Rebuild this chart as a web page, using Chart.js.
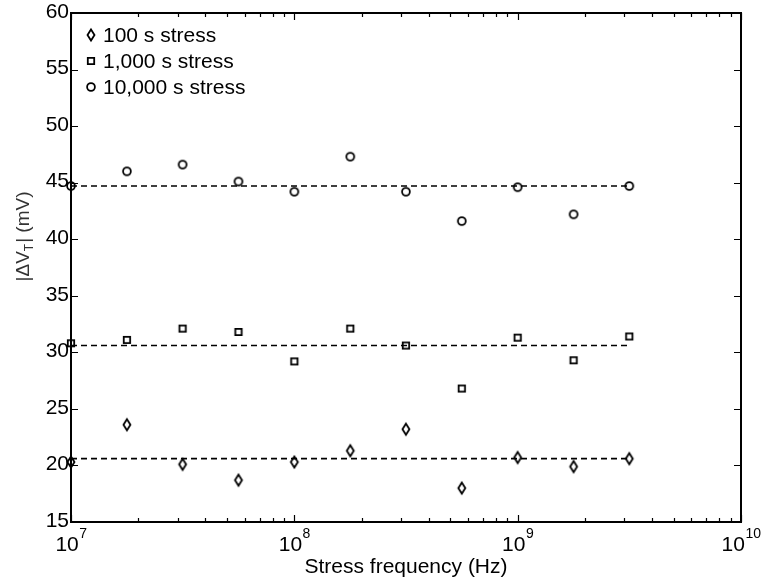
<!DOCTYPE html>
<html>
<head>
<meta charset="utf-8">
<script src="https://cdn.jsdelivr.net/npm/chart.js@4/dist/chart.umd.min.js"></script>
<style>
  html, body { margin: 0; padding: 0; background: #ffffff; }
  #wrap { width: 763px; height: 578px; position: relative; }
</style>
</head>
<body>
<div id="wrap"><canvas id="c" width="763" height="578"></canvas></div>
<script>
// Stress frequencies (Hz), quarter-decade steps
const freqHz = [1e7, 1.78e7, 3.16e7, 5.62e7, 1e8, 1.78e8, 3.16e8, 5.62e8, 1e9, 1.78e9, 3.16e9];

// |dVT| (mV) for each stress time
const stress100 = [20.3, 23.6, 20.1, 18.7, 20.3, 21.3, 23.2, 18.0, 20.7, 19.9, 20.6];
const stress1000 = [30.8, 31.1, 32.1, 31.8, 29.2, 32.1, 30.6, 26.8, 31.3, 29.3, 31.4];
const stress10000 = [44.7, 46.0, 46.6, 45.1, 44.2, 47.3, 44.2, 41.6, 44.6, 42.2, 44.7];

// Average level of each series (dashed reference lines)
const meanLevels = [20.6, 30.6, 44.7];

// Legend labels
const seriesLabels = ['100 s stress', '1,000 s stress', '10,000 s stress'];

// Axis ticks
const yTicks = [15, 20, 25, 30, 35, 40, 45, 50, 55, 60];
const xDecades = [7, 8, 9, 10];

const FONT = '"Liberation Sans", Arial, Helvetica, sans-serif';
const INK = '#000000';

// Marker glyphs as small canvases
function markerCanvas(kind) {
  const w = 14, h = 16;
  const cv = document.createElement('canvas');
  cv.width = w; cv.height = h;
  const g = cv.getContext('2d');
  g.strokeStyle = INK;
  g.lineWidth = 1.8;
  const cx = w / 2, cy = h / 2;
  g.beginPath();
  if (kind === 'diamond') {
    g.moveTo(cx, cy - 5.6);
    g.lineTo(cx + 3.5, cy);
    g.lineTo(cx, cy + 5.6);
    g.lineTo(cx - 3.5, cy);
    g.closePath();
  } else if (kind === 'square') {
    g.rect(cx - 3.2, cy - 3.2, 6.4, 6.4);
  } else {
    g.arc(cx, cy, 3.9, 0, Math.PI * 2);
  }
  g.stroke();
  return cv;
}
const markers = [markerCanvas('diamond'), markerCanvas('square'), markerCanvas('circle')];

function pts(ys) { return freqHz.map((x, i) => ({ x: x, y: ys[i] })); }
function meanLine(v) { return [{ x: freqHz[0], y: v }, { x: freqHz[freqHz.length - 1], y: v }]; }

const seriesData = [stress100, stress1000, stress10000];
const datasets = [];
seriesData.forEach((ys, i) => {
  datasets.push({
    type: 'scatter',
    label: seriesLabels[i],
    data: pts(ys),
    pointStyle: markers[i],
    pointRadius: 5,
    pointHoverRadius: 5,
    showLine: false,
    clip: false
  });
});
meanLevels.forEach((v) => {
  datasets.push({
    type: 'line',
    label: '',
    data: meanLine(v),
    borderColor: INK,
    borderWidth: 1.6,
    borderDash: [6, 4],
    pointRadius: 0,
    fill: false,
    clip: false
  });
});

function supLabel(ctx, base, exp, cx, baseline) {
  ctx.font = '21px ' + FONT;
  const bw = ctx.measureText(base).width;
  ctx.font = '14px ' + FONT;
  const ew = ctx.measureText(exp).width;
  const left = cx - (bw + ew) / 2;
  ctx.textAlign = 'left';
  ctx.textBaseline = 'alphabetic';
  ctx.font = '21px ' + FONT;
  ctx.fillText(base, left, baseline);
  ctx.font = '14px ' + FONT;
  ctx.fillText(exp, left + bw + 0.5, baseline - 13);
}

// Boxed axes with inward ticks, labels, titles and an inset legend
const axesPlugin = {
  id: 'boxAxes',
  afterDraw(chart) {
    const ctx = chart.ctx;
    const a = chart.chartArea;
    const xs = chart.scales.x, ys = chart.scales.y;
    ctx.save();
    ctx.strokeStyle = INK;
    ctx.fillStyle = INK;
    ctx.lineWidth = 2;
    ctx.strokeRect(a.left, a.top, a.right - a.left, a.bottom - a.top);

    ctx.lineWidth = 1.2;
    const major = 7, minor = 4;
    // x ticks (log)
    for (let d = xDecades[0]; d <= xDecades[xDecades.length - 1]; d++) {
      for (let m = 1; m <= 9; m++) {
        if (d === xDecades[xDecades.length - 1] && m > 1) break;
        const px = Math.round(xs.getPixelForValue(m * Math.pow(10, d))) + 0.5;
        const len = m === 1 ? major : minor;
        ctx.beginPath();
        ctx.moveTo(px, a.bottom); ctx.lineTo(px, a.bottom - len);
        ctx.moveTo(px, a.top); ctx.lineTo(px, a.top + len);
        ctx.stroke();
      }
    }
    // y ticks
    yTicks.forEach((v) => {
      const py = Math.round(ys.getPixelForValue(v)) + 0.5;
      ctx.beginPath();
      ctx.moveTo(a.left, py); ctx.lineTo(a.left + major, py);
      ctx.moveTo(a.right, py); ctx.lineTo(a.right - major, py);
      ctx.stroke();
    });

    // y tick labels
    ctx.font = '21px ' + FONT;
    ctx.textAlign = 'right';
    ctx.textBaseline = 'middle';
    yTicks.forEach((v) => {
      ctx.fillText(String(v), a.left - 2, ys.getPixelForValue(v) - 1);
    });

    // x tick labels: 10^n
    xDecades.forEach((d) => {
      supLabel(ctx, '10', String(d), xs.getPixelForValue(Math.pow(10, d)), a.bottom + 29);
    });

    // x title
    ctx.font = '21px ' + FONT;
    ctx.textAlign = 'center';
    ctx.textBaseline = 'alphabetic';
    ctx.fillText('Stress frequency (Hz)', (a.left + a.right) / 2, 573);

    // y title: |ΔV_T| (mV), rotated
    ctx.save();
    ctx.translate(29, 237);
    ctx.rotate(-Math.PI / 2);
    const big = '19px ' + FONT, small = '12px ' + FONT;
    const parts = [
      { t: '|\u0394V', f: big, dy: 0 },
      { t: 'T', f: small, dy: 4 },
      { t: '| (mV)', f: big, dy: 0 }
    ];
    let total = 0;
    parts.forEach((p) => { ctx.font = p.f; p.w = ctx.measureText(p.t).width; total += p.w; });
    let x0 = -total / 2;
    ctx.textAlign = 'left';
    ctx.textBaseline = 'alphabetic';
    ctx.fillStyle = '#333333';
    parts.forEach((p) => {
      ctx.font = p.f;
      ctx.fillText(p.t, x0, p.dy);
      x0 += p.w + (p.t === 'T' ? 1 : 0);
    });
    ctx.restore();

    // legend
    const rowsY = [35, 61, 87];
    ctx.font = '21px ' + FONT;
    ctx.textAlign = 'left';
    ctx.textBaseline = 'middle';
    ctx.fillStyle = INK;
    seriesLabels.forEach((lab, i) => {
      const m = markers[i];
      ctx.drawImage(m, 91 - m.width / 2, rowsY[i] - m.height / 2);
      ctx.fillText(lab, 103, rowsY[i] + 1);
    });
    ctx.restore();
  }
};

new Chart(document.getElementById('c'), {
  type: 'scatter',
  data: { datasets: datasets },
  options: {
    responsive: false,
    animation: false,
    devicePixelRatio: 1,
    layout: { padding: { left: 71, right: 22, top: 13, bottom: 56 } },
    plugins: { legend: { display: false }, tooltip: { enabled: false } },
    scales: {
      x: { type: 'logarithmic', min: 1e7, max: 1e10, display: false },
      y: { type: 'linear', min: 15, max: 60, display: false }
    }
  },
  plugins: [axesPlugin]
});
</script>
</body>
</html>
